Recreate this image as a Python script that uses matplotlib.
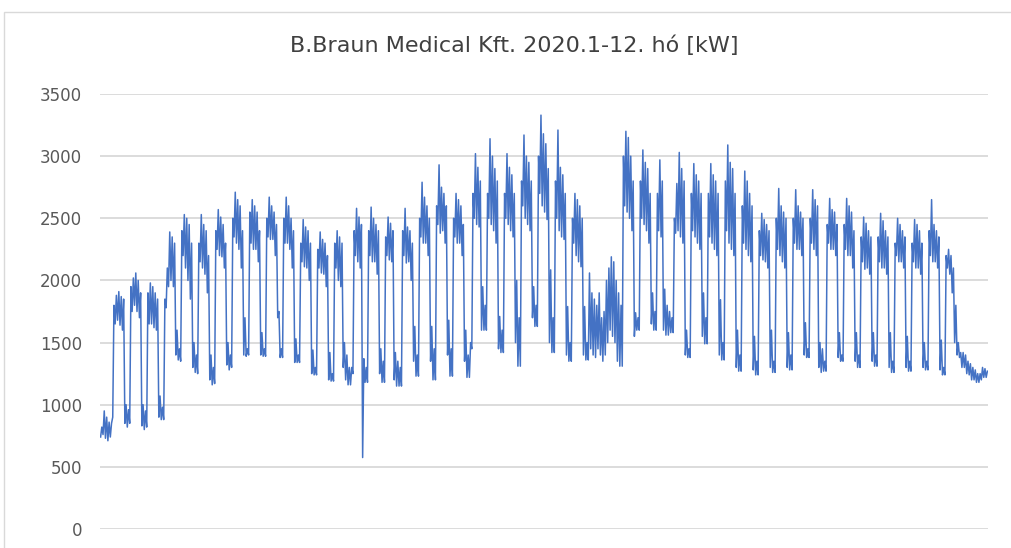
#!/usr/bin/env python3

import matplotlib
matplotlib.use('Agg')
import matplotlib.pyplot as plt
from matplotlib.patches import Rectangle
import numpy as np

# Daily load, kW (Jan 1 2020 = Wednesday).
# Rows are weeks Mon..Sun; the first row is Wed Jan 1 - Sun Jan 5.
day_max = [
    820, 950, 900, 860, 850,
    1800, 1880, 1910, 1870, 1850, 1000, 960,
    1950, 2020, 2060, 2000, 1900, 1000, 950,
    1900, 1980, 1950, 1900, 1850, 1070, 980,
    1850, 2100, 2390, 2350, 2300, 1600, 1450,
    2400, 2530, 2500, 2450, 2300, 1500, 1400,
    2300, 2530, 2450, 2400, 2200, 1400, 1300,
    2400, 2570, 2510, 2450, 2300, 1500, 1400,
    2500, 2710, 2650, 2600, 2400, 1700, 1450,
    2550, 2650, 2600, 2550, 2400, 1580, 1450,
    2500, 2670, 2600, 2550, 2450, 1750, 1450,
    2500, 2670, 2600, 2500, 2400, 1530, 1400,
    2300, 2490, 2430, 2400, 2300, 1440, 1300,
    2250, 2390, 2330, 2300, 2200, 1420, 1250,
    2300, 2400, 2350, 2300, 1500, 1400, 1300,
    1300, 2400, 2580, 2510, 2450, 1370, 1300,
    2400, 2590, 2500, 2450, 2400, 1450, 1350,
    2350, 2510, 2460, 2400, 1420, 1350, 1300,
    2400, 2580, 2430, 2400, 2300, 1630, 1400,
    2500, 2790, 2670, 2600, 2500, 1630, 1450,
    2600, 2930, 2750, 2700, 2600, 1680, 1450,
    2500, 2700, 2650, 2600, 2450, 1600, 1400,
    1500, 2700, 3020, 2910, 2800, 1950, 1800,
    2700, 3140, 3000, 2900, 2800, 1710, 1600,
    2700, 3020, 2910, 2850, 2700, 2000, 1700,
    2800, 3170, 3000, 2950, 2800, 1950, 1800,
    3000, 3330, 3180, 3100, 2900, 2085, 1700,
    2800, 3210, 2910, 2850, 2700, 1790, 1500,
    2500, 2700, 2650, 2600, 2500, 1790, 1500,
    2060, 1900, 1850, 1800, 1900, 1700, 1750,
    2000, 2100, 2190, 2150, 2000, 1900, 1800,
    3000, 3200, 3150, 3000, 2800, 1740, 1700,
    2800, 3050, 2950, 2900, 2700, 1900, 1750,
    2700, 2970, 2800, 1930, 1800, 1750, 1700,
    2500, 2780, 3030, 2900, 2800, 1600, 1450,
    2700, 2940, 2850, 2800, 2700, 1900, 1700,
    2700, 2940, 2850, 2800, 2700, 1845, 1500,
    2800, 3090, 2950, 2900, 2700, 1600, 1400,
    2600, 2880, 2800, 2700, 2600, 1550, 1350,
    2400, 2540, 2490, 2450, 2400, 1600, 1350,
    2500, 2740, 2600, 2550, 2500, 1580, 1400,
    2500, 2730, 2600, 2550, 2500, 1660, 1450,
    2500, 2730, 2650, 2600, 1500, 1450, 1350,
    2450, 2660, 2570, 2550, 2450, 1580, 1400,
    2450, 2660, 2600, 2550, 2400, 1580, 1400,
    2350, 2510, 2460, 2400, 2350, 1580, 1400,
    2350, 2540, 2480, 2400, 2350, 1580, 1350,
    2300, 2500, 2450, 2400, 2350, 1550, 1350,
    2300, 2490, 2450, 2400, 2300, 1500, 1350,
    2400, 2650, 2450, 2400, 2350, 1520, 1300,
    2200, 2250, 2200, 2100, 1800, 1500, 1420,
    1420, 1400, 1350, 1330, 1300, 1280, 1250,
    1250, 1300, 1290, 1270,
]

day_min = [
    740, 760, 730, 710, 740,
    900, 1650, 1680, 1640, 1600, 850, 820,
    850, 1750, 1800, 1750, 1700, 830, 800,
    820, 1650, 1650, 1620, 1600, 900, 880,
    880, 1780, 1950, 2000, 1950, 1400, 1360,
    1350, 2200, 2100, 2000, 1850, 1300, 1260,
    1250, 2150, 2100, 2050, 1900, 1200, 1160,
    1170, 2250, 2200, 2190, 2100, 1320, 1280,
    1300, 2350, 2300, 2250, 2100, 1400, 1390,
    1400, 2300, 2250, 2250, 2150, 1400, 1390,
    1390, 2350, 2330, 2330, 2200, 1700, 1380,
    1380, 2300, 2300, 2250, 2100, 1340, 1340,
    1340, 2150, 2110, 2100, 2000, 1250, 1240,
    1240, 2100, 2060, 2050, 1950, 1200, 1190,
    1190, 2100, 2000, 1950, 1300, 1200, 1160,
    1160, 1250, 2200, 2150, 2100, 575, 1180,
    1180, 2200, 2150, 2150, 2050, 1250, 1180,
    1180, 2200, 2165, 2150, 1200, 1150, 1150,
    1150, 2200, 2140, 2150, 2000, 1350, 1230,
    1230, 2350, 2300, 2300, 2200, 1350, 1200,
    1200, 2450, 2380, 2400, 2300, 1400, 1230,
    1230, 2350, 2300, 2300, 2200, 1350, 1220,
    1220, 1450, 2500, 2450, 2430, 1600, 1600,
    1600, 2500, 2450, 2400, 2300, 1450, 1420,
    1420, 2500, 2450, 2400, 2350, 1500, 1310,
    1310, 2600, 2500, 2450, 2400, 1700, 1630,
    1630, 2700, 2600, 2550, 2490, 1500, 1420,
    1420, 2500, 2400, 2350, 2330, 1400, 1350,
    1350, 2300, 2200, 2150, 2110, 1400, 1360,
    1360, 1450, 1400, 1380, 1450, 1400, 1350,
    1400, 1500, 1600, 1550, 1500, 1350, 1310,
    1310, 2600, 2550, 2500, 2400, 1550, 1600,
    1600, 2500, 2450, 2400, 2300, 1650, 1600,
    1600, 2400, 2350, 1600, 1560, 1560, 1580,
    1580, 2380, 2400, 2350, 2300, 1400, 1380,
    1380, 2400, 2350, 2300, 2250, 1550, 1490,
    1490, 2350, 2300, 2250, 2200, 1400, 1360,
    1360, 2400, 2300, 2250, 2200, 1300, 1270,
    1270, 2300, 2250, 2200, 2150, 1280, 1240,
    1240, 2200, 2165, 2150, 2100, 1300, 1260,
    1260, 2250, 2200, 2150, 2100, 1300, 1280,
    1280, 2300, 2250, 2250, 2200, 1400, 1380,
    1380, 2300, 2250, 2200, 1300, 1260, 1270,
    1270, 2300, 2250, 2250, 2200, 1380, 1350,
    1350, 2250, 2200, 2200, 2100, 1350, 1300,
    1300, 2150, 2090, 2100, 2050, 1350, 1310,
    1310, 2150, 2100, 2100, 2050, 1300, 1260,
    1260, 2200, 2150, 2150, 2100, 1300, 1270,
    1270, 2150, 2100, 2100, 2050, 1300, 1280,
    1280, 2200, 2150, 2150, 2100, 1280, 1240,
    1240, 2100, 2050, 1900, 1500, 1400, 1380,
    1300, 1300, 1250, 1240, 1200, 1200, 1180,
    1180, 1200, 1220, 1220,
]

y_ticks = [0, 500, 1000, 1500, 2000, 2500, 3000, 3500]
title = 'B.Braun Medical Kft. 2020.1-12. hó [kW]'

# two samples per day: daily low then daily high
days = np.arange(len(day_max))
x = np.column_stack([days + 0.25, days + 0.75]).ravel()
y = np.column_stack([day_min, day_max]).ravel()

W, H = 1012, 548
fig = plt.figure(figsize=(W / 100, H / 100), dpi=100)
fig.patch.set_facecolor('white')

# chart area border
fig.patches.append(Rectangle((4 / W, -0.1), 1.2, (H - 12) / H + 0.1,
                             transform=fig.transFigure, fill=False,
                             edgecolor='#d9d9d9', linewidth=1.0))

ax = fig.add_axes([100 / W, (H - 529) / H, 888 / W, 435 / H])
ax.plot(x, y, color='#4472c4', linewidth=1.1)

ax.set_xlim(0, len(day_max))
ax.set_ylim(0, 3500)
ax.set_yticks(y_ticks)
ax.set_xticks([])
ax.grid(axis='y', color='#d9d9d9', linewidth=1.3)
ax.set_axisbelow(True)
for s in ax.spines.values():
    s.set_visible(False)
ax.tick_params(axis='y', length=0, pad=13, labelsize=12, labelcolor='#595959')

fig.text(514 / W, 1 - 46 / H, title, ha='center', va='center',
         fontsize=16, color='#404040')

plt.savefig('out.png', dpi=100)
plt.close()
